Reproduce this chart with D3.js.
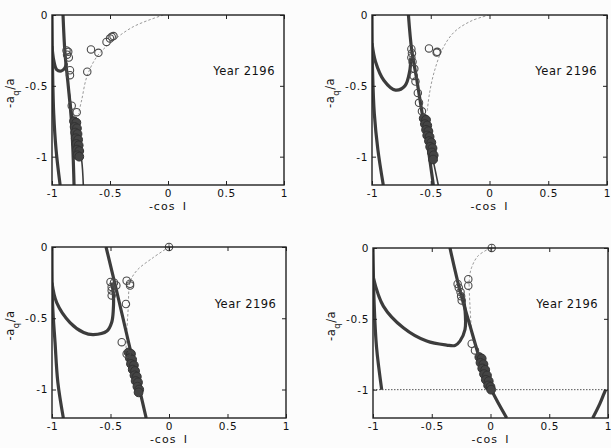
<!DOCTYPE html>
<html>
<head>
<meta charset="utf-8">
<script src="https://cdn.jsdelivr.net/npm/d3@7"></script>
<style>
  body { margin: 0; background: #fcfcfc; }
  text { font-family: "DejaVu Sans", sans-serif; fill: #111; }
</style>
</head>
<body>
<svg id="fig" width="611" height="448"></svg>
<script>
// ejes comunes
const xTicks = [-1, -0.5, 0, 0.5, 1];
const xTickLabels = ["-1", "-0.5", "0", "0.5", "1"];
const yTicks = [0, -0.5, -1];
const yTickLabels = ["0", "-0.5", "-1"];
const yearLabel = "Year 2196";

// panel 1 (arriba izquierda)
const p1Left = [[-1, 0], [-0.995, -0.4], [-0.985, -0.7], [-0.965, -0.95], [-0.93, -1.2]];
const p1U = [[-1, -0.22], [-0.985, -0.32], [-0.96, -0.385], [-0.92, -0.395], [-0.89, -0.375], [-0.875, -0.34]];
const p1Main = [[-0.905, 0], [-0.888, -0.27], [-0.86, -0.5], [-0.835, -0.72], [-0.82, -0.95], [-0.81, -1.2]];
const p1Main2 = [[-0.86, -0.5], [-0.82, -0.72], [-0.775, -0.9], [-0.745, -1.02], [-0.73, -1.2]];
const p1Dotted = [[-0.04, 0], [-0.3, -0.083], [-0.5, -0.2], [-0.615, -0.296], [-0.7, -0.437], [-0.744, -0.6], [-0.773, -0.7]];
const p1Circles = [[-0.875, -0.25], [-0.86, -0.26], [-0.87, -0.28], [-0.855, -0.3], [-0.845, -0.39], [-0.845, -0.425],
  [-0.83, -0.64], [-0.787, -0.686], [-0.696, -0.4], [-0.664, -0.243], [-0.6, -0.267], [-0.53, -0.19],
  [-0.5, -0.165], [-0.485, -0.154], [-0.47, -0.149]];
const p1Blob = [[-0.81, -0.75], [-0.79, -0.76], [-0.805, -0.79], [-0.785, -0.8], [-0.8, -0.83], [-0.78, -0.84],
  [-0.795, -0.87], [-0.775, -0.88], [-0.79, -0.91], [-0.77, -0.92], [-0.785, -0.95], [-0.765, -0.96],
  [-0.78, -0.99], [-0.765, -1.0]];

// panel 2 (arriba derecha)
const p2Left = [[-1, 0], [-0.995, -0.4], [-0.98, -0.7], [-0.95, -0.95], [-0.904, -1.2]];
const p2U = [[-1, -0.2], [-0.97, -0.33], [-0.9, -0.46], [-0.8, -0.53], [-0.72, -0.5], [-0.68, -0.4], [-0.67, -0.3]];
const p2Main = [[-0.69, 0], [-0.662, -0.248], [-0.62, -0.45], [-0.577, -0.674], [-0.53, -0.9], [-0.478, -1.2]];
const p2Main2 = [[-0.577, -0.674], [-0.54, -0.82], [-0.5, -0.95], [-0.436, -1.2]];
const p2Dotted = [[0, 0], [-0.15, -0.04], [-0.3, -0.12], [-0.4, -0.24], [-0.47, -0.4], [-0.51, -0.55], [-0.53, -0.68]];
const p2Circles = [[-0.665, -0.24], [-0.66, -0.27], [-0.665, -0.3], [-0.655, -0.33], [-0.64, -0.38], [-0.645, -0.43],
  [-0.63, -0.47], [-0.61, -0.55], [-0.6, -0.62], [-0.575, -0.68], [-0.515, -0.236], [-0.445, -0.26], [-0.45, -0.265]];
const p2Blob = [[-0.56, -0.73], [-0.54, -0.74], [-0.55, -0.77], [-0.53, -0.78], [-0.54, -0.81], [-0.52, -0.82],
  [-0.53, -0.85], [-0.51, -0.86], [-0.515, -0.89], [-0.495, -0.9], [-0.505, -0.93], [-0.485, -0.94],
  [-0.49, -0.97], [-0.475, -0.99], [-0.48, -1.02]];

// panel 3 (abajo izquierda)
const p3Left = [[-1, 0], [-0.995, -0.4], [-0.974, -0.67], [-0.95, -0.95], [-0.903, -1.2]];
const p3U = [[-1, -0.25], [-0.96, -0.39], [-0.846, -0.53], [-0.73, -0.6], [-0.647, -0.615], [-0.53, -0.59],
  [-0.49, -0.53], [-0.476, -0.44], [-0.476, -0.324], [-0.49, -0.25]];
const p3Main = [[-0.538, 0], [-0.45, -0.3], [-0.365, -0.6], [-0.28, -0.9], [-0.195, -1.2]];
const p3Dotted = [[0, 0], [-0.133, -0.073], [-0.276, -0.166], [-0.333, -0.248], [-0.348, -0.424], [-0.362, -0.61], [-0.368, -0.727]];
const p3Circles = [[-0.5, -0.245], [-0.47, -0.25], [-0.45, -0.27], [-0.49, -0.28], [-0.49, -0.305], [-0.49, -0.34],
  [-0.362, -0.236], [-0.333, -0.258], [-0.333, -0.27], [-0.368, -0.4], [-0.404, -0.668], [-0.362, -0.75]];
const p3Crossed = [[0, 0]];
const p3Blob = [[-0.345, -0.74], [-0.325, -0.75], [-0.335, -0.78], [-0.315, -0.79], [-0.325, -0.82], [-0.3, -0.83],
  [-0.31, -0.86], [-0.29, -0.87], [-0.295, -0.9], [-0.275, -0.91], [-0.285, -0.94], [-0.265, -0.95],
  [-0.27, -0.98], [-0.255, -1.0], [-0.26, -1.02]];

// panel 4 (abajo derecha)
const p4Left = [[-1, 0], [-0.99, -0.4], [-0.97, -0.7], [-0.926, -1.0]];
const p4U = [[-1, -0.2], [-0.912, -0.41], [-0.742, -0.563], [-0.543, -0.657], [-0.373, -0.685], [-0.302, -0.688],
  [-0.26, -0.657], [-0.217, -0.575], [-0.217, -0.435], [-0.24, -0.32]];
const p4Main = [[-0.345, 0], [-0.26, -0.3], [-0.174, -0.55], [-0.09, -0.787], [-0.02, -0.95], [0.05, -1.07], [0.138, -1.2]];
const p4Right = [[0.87, -1.2], [0.93, -1.1], [0.965, -1.03], [0.98, -1.0]];
const p4Dotted = [[0, 0], [-0.104, -0.054], [-0.16, -0.136], [-0.18, -0.218], [-0.174, -0.418], [-0.16, -0.606]];
const p4Circles = [[-0.189, -0.22], [-0.189, -0.266], [-0.28, -0.254], [-0.27, -0.28], [-0.255, -0.31],
  [-0.25, -0.34], [-0.245, -0.37], [-0.16, -0.676], [-0.132, -0.723]];
const p4Crossed = [[0.01, 0]];
const p4Blob = [[-0.095, -0.77], [-0.075, -0.78], [-0.085, -0.81], [-0.06, -0.82], [-0.07, -0.85], [-0.045, -0.86],
  [-0.055, -0.89], [-0.03, -0.9], [-0.04, -0.93], [-0.015, -0.94], [-0.02, -0.97], [0.0, -0.98], [0.005, -1.0]];
const p4HLine = [[-1, -1], [1, -1]];

let svg = d3.select("#fig");

let panels = [
  { box: [52, 15, 232, 170], thick: [p1Left, p1U, p1Main], thin: [p1Main2], dotted: p1Dotted,
    circles: p1Circles, blob: p1Blob, crossed: [], hline: null },
  { box: [372, 15, 235, 170], thick: [p2Left, p2U, p2Main], thin: [p2Main2], dotted: p2Dotted,
    circles: p2Circles, blob: p2Blob, crossed: [], hline: null },
  { box: [52, 247, 234, 171], thick: [p3Left, p3U, p3Main], thin: [], dotted: p3Dotted,
    circles: p3Circles, blob: p3Blob, crossed: p3Crossed, hline: null },
  { box: [373, 248, 235, 170], thick: [p4Left, p4U, p4Main, p4Right], thin: [], dotted: p4Dotted,
    circles: p4Circles, blob: p4Blob, crossed: p4Crossed, hline: p4HLine }
];

panels.forEach(function(p, i) {
  let [left, top, w, h] = p.box;
  let x = d3.scaleLinear().domain([-1, 1]).range([0, w]);
  let y = d3.scaleLinear().domain([-1.2, 0]).range([h, 0]);
  let g = svg.append("g").attr("transform", "translate(" + left + "," + top + ")");

  g.append("clipPath").attr("id", "clip" + i)
    .append("rect").attr("width", w).attr("height", h);

  let line = d3.line().x(d => x(d[0])).y(d => y(d[1])).curve(d3.curveCatmullRom);
  let plot = g.append("g").attr("clip-path", "url(#clip" + i + ")");

  // curva punteada gris
  plot.append("path").datum(p.dotted)
    .attr("d", line).attr("fill", "none")
    .attr("stroke", "#999").attr("stroke-width", 1)
    .attr("stroke-dasharray", "2.5,2");

  if (p.hline) {
    plot.append("path").datum(p.hline)
      .attr("d", d3.line().x(d => x(d[0])).y(d => y(d[1])))
      .attr("fill", "none").attr("stroke", "#555")
      .attr("stroke-width", 1).attr("stroke-dasharray", "1.5,1.5");
  }

  p.thin.forEach(function(c) {
    plot.append("path").datum(c).attr("d", line).attr("fill", "none")
      .attr("stroke", "#3c3c3c").attr("stroke-width", 1.6);
  });

  p.thick.forEach(function(c) {
    plot.append("path").datum(c).attr("d", line).attr("fill", "none")
      .attr("stroke", "#3c3c3c").attr("stroke-width", 3.2);
  });

  // nube de circulos densa
  g.selectAll(".blob").data(p.blob).enter().append("circle")
    .attr("cx", d => x(d[0])).attr("cy", d => y(d[1])).attr("r", 4.4)
    .attr("fill", "#444").attr("stroke", "#333").attr("stroke-width", 1);

  g.selectAll(".circ").data(p.circles).enter().append("circle")
    .attr("cx", d => x(d[0])).attr("cy", d => y(d[1])).attr("r", 3.7)
    .attr("fill", "none").attr("stroke", "#4a4a4a").attr("stroke-width", 1.1);

  let cross = g.selectAll(".cross").data(p.crossed).enter().append("g")
    .attr("transform", d => "translate(" + x(d[0]) + "," + y(d[1]) + ")");
  cross.append("circle").attr("r", 3.7).attr("fill", "none")
    .attr("stroke", "#4a4a4a").attr("stroke-width", 1.1);
  cross.append("path").attr("d", "M-3.7,0H3.7M0,-3.7V3.7")
    .attr("stroke", "#4a4a4a").attr("stroke-width", 0.8);

  // ejes estilo matlab, marcas hacia dentro
  let fmtX = d => xTickLabels[xTicks.indexOf(d)];
  let fmtY = d => yTickLabels[yTicks.indexOf(d)];
  let axes = [
    g.append("g").attr("transform", "translate(0," + h + ")")
      .call(d3.axisBottom(x).tickValues(xTicks).tickFormat(fmtX).tickSizeInner(-4).tickSizeOuter(0).tickPadding(5)),
    g.append("g")
      .call(d3.axisTop(x).tickValues(xTicks).tickFormat("").tickSizeInner(-4).tickSizeOuter(0)),
    g.append("g")
      .call(d3.axisLeft(y).tickValues(yTicks).tickFormat(fmtY).tickSizeInner(-4).tickSizeOuter(0).tickPadding(4)),
    g.append("g").attr("transform", "translate(" + w + ",0)")
      .call(d3.axisRight(y).tickValues(yTicks).tickFormat("").tickSizeInner(-4).tickSizeOuter(0))
  ];
  axes.forEach(function(a) {
    a.select(".domain").remove();
    a.selectAll("line").attr("stroke", "#222").attr("stroke-width", 1);
    a.selectAll("text").attr("font-size", 10.5).attr("letter-spacing", 0.6)
      .attr("font-family", "DejaVu Sans").attr("fill", "#111");
  });

  g.append("rect").attr("width", w).attr("height", h)
    .attr("fill", "none").attr("stroke", "#222").attr("stroke-width", 1.4);

  g.append("text").attr("x", x(0.39)).attr("y", y(-0.425))
    .attr("font-size", 11.5).attr("letter-spacing", 0.5)
    .text(yearLabel);

  g.append("text").attr("x", x(0)).attr("y", h + 25)
    .attr("text-anchor", "middle").attr("font-size", 11)
    .attr("letter-spacing", 1).attr("word-spacing", 3)
    .text("-cos I");

  let yl = g.append("text")
    .attr("transform", "translate(-38," + (y(-0.55)) + ") rotate(-90)")
    .attr("text-anchor", "middle").attr("font-size", 11.5).attr("letter-spacing", 0.5);
  yl.append("tspan").text("-a");
  yl.append("tspan").attr("baseline-shift", "sub").attr("font-size", 8.5).text("q");
  yl.append("tspan").text("/a");
});
</script>
</body>
</html>
